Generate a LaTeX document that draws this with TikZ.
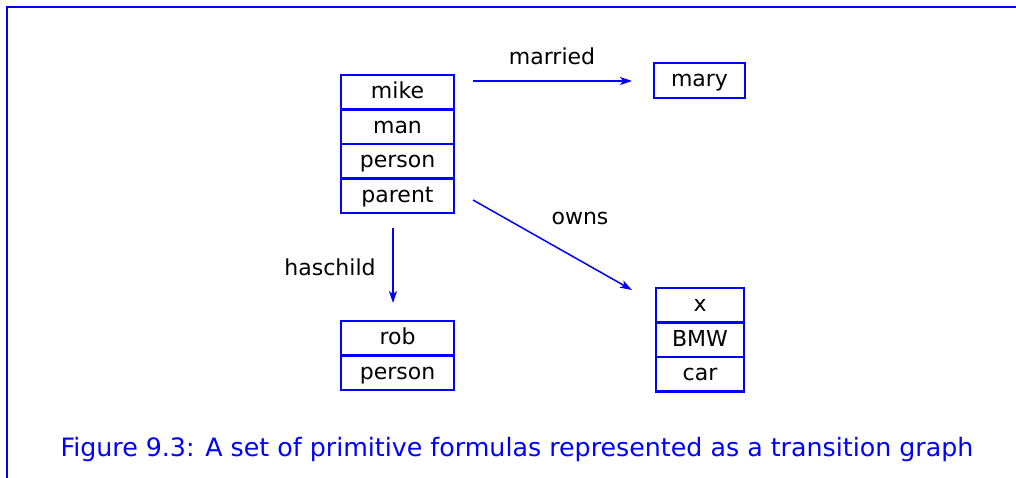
\documentclass[tikz,border=0pt]{standalone}
\usepackage{fontspec}
\setmainfont{DejaVu Sans}
\usetikzlibrary{arrows.meta}
\definecolor{fblue}{RGB}{0,0,255}
\begin{document}
\begin{tikzpicture}[x=1pt,y=-1pt,
  cell/.style={draw=fblue,line width=2.2pt,minimum height=34.5pt,inner sep=0pt,outer sep=0pt,anchor=center,text height=15pt,text depth=2pt,font=\fontsize{22}{26}\selectfont},
  wide/.style={cell,minimum width=113pt},
  narrow/.style={cell,minimum width=88pt},
  lbl/.style={font=\fontsize{22}{26}\selectfont,text=black},
  conn/.style={draw=fblue,line width=1.5pt,-{Stealth[length=12pt,width=8pt,inset=3pt]}}]
\useasboundingbox (0,0) rectangle (1016,478);
\draw[fblue,line width=2.5pt] (7,478) -- (7,7) -- (1016,7);
% mike box
\node[wide] (mike) at (397.5,92.25) {mike};
\node[wide] (man) at (397.5,126.75) {man};
\node[wide] (person1) at (397.5,161.25) {person};
\node[wide] (parent) at (397.5,195.75) {parent};
% mary
\node[cell,minimum width=91pt,minimum height=35pt] (mary) at (699.5,80.5) {mary};
% rob box
\node[wide] (rob) at (397.5,338.25) {rob};
\node[wide] (person2) at (397.5,372.75) {person};
% car box
\node[narrow] (x) at (700,305.25) {x};
\node[narrow] (bmw) at (700,339.75) {BMW};
\node[narrow] (car) at (700,374.25) {car};
% connector end points
\coordinate (m1) at (473,81);
\coordinate (m2) at (632,81);
\coordinate (o1) at (473,200);
\coordinate (o2) at (632,290);
\coordinate (h1) at (393,228);
\coordinate (h2) at (393,303);
\draw[conn] (m1) -- (m2);
\draw[conn] (o1) -- (o2);
\draw[conn] (h1) -- (h2);
\node[lbl] (lmarried) at (552,56) {married};
\node[lbl] (lowns) at (580,218) {owns};
\node[lbl] (lhaschild) at (330,267) {haschild};
\node[text=fblue,font=\fontsize{25.3}{30}\selectfont] (caption) at (517,450) {Figure 9.3: A set of primitive formulas represented as a transition graph};
\end{tikzpicture}
\end{document}
